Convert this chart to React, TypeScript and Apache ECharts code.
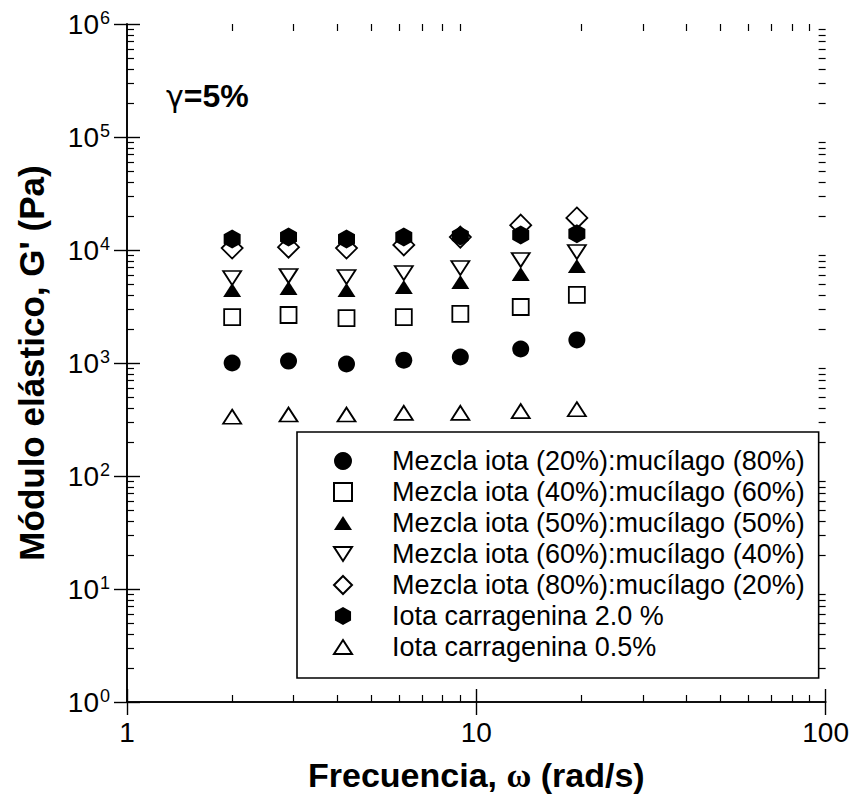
import React, { useEffect, useRef } from "react";
import * as echarts from "echarts";

// Angular frequency (rad/s) of each measurement
const frequency = [2.0, 2.9, 4.25, 6.2, 9.0, 13.4, 19.4];

// Storage modulus G' (Pa) for each sample
const mix20_80 = [1000, 1040, 980, 1060, 1130, 1330, 1600];
const mix40_60 = [2550, 2660, 2500, 2550, 2720, 3130, 4000];
const mix50_50 = [4430, 4610, 4430, 4700, 5210, 6140, 7220];
const mix60_40 = [5650, 5890, 5770, 6260, 6930, 8160, 9600];
const mix80_20 = [10400, 10600, 10400, 11100, 13000, 16600, 19200];
const iota20 = [12500, 13000, 12500, 13000, 13300, 13600, 13900];
const iota05 = [335, 350, 350, 362, 362, 375, 390];

const seriesNames = [
  "Mezcla iota (20%):mucílago (80%)",
  "Mezcla iota (40%):mucílago (60%)",
  "Mezcla iota (50%):mucílago (50%)",
  "Mezcla iota (60%):mucílago (40%)",
  "Mezcla iota (80%):mucílago (20%)",
  "Iota carragenina 2.0 %",
  "Iota carragenina 0.5%",
];

// Minor tick positions (2..9 of every decade)
const xMinorTicks = [2, 3, 4, 5, 6, 7, 8, 9, 20, 30, 40, 50, 60, 70, 80, 90];
const yMinorTicks: number[] = [];
for (let e = 0; e < 6; e++) {
  for (let m = 2; m <= 9; m++) yMinorTicks.push(m * Math.pow(10, e));
}

const FONT = "Liberation Sans";

const SYM_TRI_UP = "path://M9,0 L18,14 L0,14 Z";
const SYM_TRI_DOWN = "path://M0,0 L18,0 L9,14 Z";
const SYM_HEX = "path://M8.5,0 L17,4.75 L17,14.25 L8.5,19 L0,14.25 L0,4.75 Z";

const filled = { color: "#000", borderWidth: 0, opacity: 1 };
const open = { color: "#fff", borderColor: "#000", borderWidth: 1.8, opacity: 1 };

function pairs(values: number[]) {
  return values.map((v, i) => [frequency[i], v]);
}

export default function App() {
  const ref = useRef<HTMLDivElement>(null);

  useEffect(() => {
    if (!ref.current) return;
    const chart = echarts.init(ref.current, null, { renderer: "svg" });

    const frameLine = { show: true, lineStyle: { color: "#000", width: 1.6 } };
    const majorTick = { show: true, inside: true, length: 13, lineStyle: { color: "#000", width: 1.4 } };
    const minorTick = (values: number[]) => ({
      show: true,
      inside: true,
      length: 7,
      customValues: values.map((v) => Math.log10(v)),
      lineStyle: { color: "#000", width: 1.2 },
    });

    const option: any = {
      animation: false,
      backgroundColor: "#fff",
      grid: { left: 127, right: 26, top: 24, bottom: 99 },
      xAxis: [
        {
          type: "log",
          logBase: 10,
          min: 1,
          max: 100,
          position: "bottom",
          axisLine: frameLine,
          axisTick: majorTick,
          splitLine: { show: false },
          axisLabel: {
            margin: 16,
            fontFamily: FONT,
            fontSize: 28,
            color: "#000",
            formatter: (v: number) => String(v),
          },
          name: "Frecuencia, {w|ω} (rad/s)",
          nameLocation: "middle",
          nameGap: 56,
          nameTextStyle: {
            fontFamily: FONT,
            fontSize: 34,
            fontWeight: "bold",
            color: "#000",
            rich: {
              w: { fontFamily: "Liberation Serif", fontSize: 34, fontWeight: "bold", color: "#000" },
            },
          },
        },
        {
          type: "log",
          logBase: 10,
          min: 1,
          max: 100,
          position: "top",
          axisLine: frameLine,
          axisTick: majorTick,
          axisLabel: { show: false },
          splitLine: { show: false },
        },
        {
          type: "value",
          min: 0,
          max: 2,
          position: "bottom",
          axisLine: { show: false },
          axisTick: minorTick(xMinorTicks),
          axisLabel: { show: false },
          splitLine: { show: false },
        },
        {
          type: "value",
          min: 0,
          max: 2,
          position: "top",
          axisLine: { show: false },
          axisTick: minorTick(xMinorTicks),
          axisLabel: { show: false },
          splitLine: { show: false },
        },
      ],
      yAxis: [
        {
          type: "log",
          logBase: 10,
          min: 1,
          max: 1000000,
          position: "left",
          axisLine: frameLine,
          axisTick: majorTick,
          splitLine: { show: false },
          axisLabel: {
            margin: 17,
            formatter: (v: number) => `{b|10}{s|${Math.round(Math.log10(v))}}`,
            rich: {
              b: { fontFamily: FONT, fontSize: 28, color: "#000", lineHeight: 30 },
              s: { fontFamily: FONT, fontSize: 18, color: "#000", verticalAlign: "top", lineHeight: 30, padding: [0, 0, 12, 1] },
            },
          },
          name: "Módulo elástico, G' (Pa)",
          nameLocation: "middle",
          nameRotate: 90,
          nameGap: 78,
          nameTextStyle: { fontFamily: FONT, fontSize: 35, fontWeight: "bold", color: "#000" },
        },
        {
          type: "log",
          logBase: 10,
          min: 1,
          max: 1000000,
          position: "right",
          axisLine: frameLine,
          axisTick: majorTick,
          axisLabel: { show: false },
          splitLine: { show: false },
        },
        {
          type: "value",
          min: 0,
          max: 6,
          position: "left",
          axisLine: { show: false },
          axisTick: minorTick(yMinorTicks),
          axisLabel: { show: false },
          splitLine: { show: false },
        },
        {
          type: "value",
          min: 0,
          max: 6,
          position: "right",
          axisLine: { show: false },
          axisTick: minorTick(yMinorTicks),
          axisLabel: { show: false },
          splitLine: { show: false },
        },
      ],
      legend: {
        orient: "vertical",
        left: 297,
        top: 432,
        itemWidth: 18,
        itemHeight: 18,
        itemGap: 3,
        padding: [15, 14, 17, 36],
        borderColor: "#000",
        borderWidth: 1.6,
        backgroundColor: "#fff",
        selectedMode: false,
        symbolKeepAspect: true,
        textStyle: {
          fontFamily: FONT,
          fontSize: 27,
          color: "#000",
          lineHeight: 28,
          padding: [0, 0, 0, 35],
        },
        data: seriesNames,
      },
      graphic: [
        {
          type: "text",
          left: 166,
          top: 80,
          style: {
            text: "{g|γ}=5%",
            font: `bold 32px "${FONT}"`,
            fill: "#000",
            rich: {
              g: { fontFamily: "DejaVu Sans", fontSize: 30, fontWeight: "normal", fill: "#000" },
            },
          },
        },
      ],
      series: [
        { name: seriesNames[0], type: "scatter", data: pairs(mix20_80), symbol: "circle", symbolSize: 17, itemStyle: filled, z: 3 },
        { name: seriesNames[1], type: "scatter", data: pairs(mix40_60), symbol: "rect", symbolSize: 16, itemStyle: open, z: 2 },
        { name: seriesNames[2], type: "scatter", data: pairs(mix50_50), symbol: SYM_TRI_UP, symbolSize: [18, 14], itemStyle: filled, z: 3 },
        { name: seriesNames[3], type: "scatter", data: pairs(mix60_40), symbol: SYM_TRI_DOWN, symbolSize: [18, 14], itemStyle: open, z: 2 },
        { name: seriesNames[4], type: "scatter", data: pairs(mix80_20), symbol: "diamond", symbolSize: 21, itemStyle: open, z: 2 },
        { name: seriesNames[5], type: "scatter", data: pairs(iota20), symbol: SYM_HEX, symbolSize: [17, 19], itemStyle: filled, z: 4 },
        { name: seriesNames[6], type: "scatter", data: pairs(iota05), symbol: SYM_TRI_UP, symbolSize: [18, 14], itemStyle: open, z: 2 },
      ],
    };

    chart.setOption(option);
    return () => chart.dispose();
  }, []);

  return (
    <div
      ref={ref}
      style={{ position: "fixed", left: 0, top: 0, width: 852, height: 801, background: "#fff" }}
    />
  );
}
